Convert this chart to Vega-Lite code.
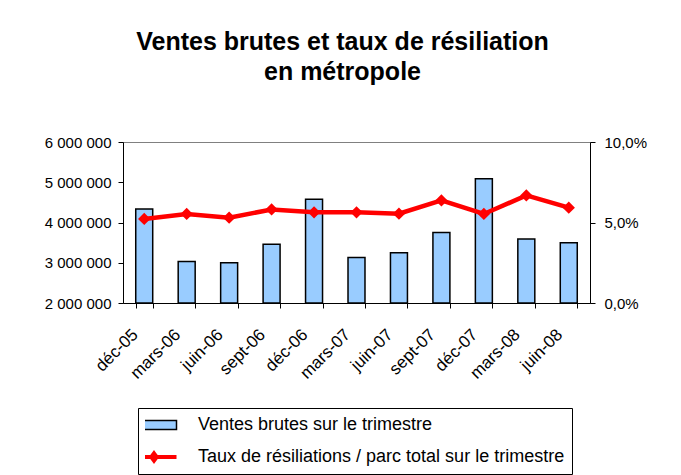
{
  "$schema": "https://vega.github.io/schema/vega-lite/v6.json",
  "width": 467,
  "height": 161,
  "autosize": {"type": "none"},
  "padding": {"left": 123, "top": 142, "right": 91, "bottom": 172},
  "background": "white",
  "title": {
    "text": ["Ventes brutes et taux de résiliation", "en métropole"],
    "font": "Liberation Sans",
    "fontSize": 25,
    "fontWeight": "bold",
    "color": "black",
    "lineHeight": 30,
    "anchor": "middle",
    "frame": "group",
    "dx": -14,
    "offset": 50
  },
  "data": {
    "values": [
      {"trimestre": "déc-05", "serie": "Ventes brutes sur le trimestre", "valeur": 4335000},
      {"trimestre": "mars-06", "serie": "Ventes brutes sur le trimestre", "valeur": 3030000},
      {"trimestre": "juin-06", "serie": "Ventes brutes sur le trimestre", "valeur": 3000000},
      {"trimestre": "sept-06", "serie": "Ventes brutes sur le trimestre", "valeur": 3460000},
      {"trimestre": "déc-06", "serie": "Ventes brutes sur le trimestre", "valeur": 4580000},
      {"trimestre": "mars-07", "serie": "Ventes brutes sur le trimestre", "valeur": 3130000},
      {"trimestre": "juin-07", "serie": "Ventes brutes sur le trimestre", "valeur": 3250000},
      {"trimestre": "sept-07", "serie": "Ventes brutes sur le trimestre", "valeur": 3750000},
      {"trimestre": "déc-07", "serie": "Ventes brutes sur le trimestre", "valeur": 5090000},
      {"trimestre": "mars-08", "serie": "Ventes brutes sur le trimestre", "valeur": 3590000},
      {"trimestre": "juin-08", "serie": "Ventes brutes sur le trimestre", "valeur": 3500000},
      {"trimestre": "déc-05", "serie": "Taux de résiliations / parc total sur le trimestre", "valeur": 0.0522},
      {"trimestre": "mars-06", "serie": "Taux de résiliations / parc total sur le trimestre", "valeur": 0.0553},
      {"trimestre": "juin-06", "serie": "Taux de résiliations / parc total sur le trimestre", "valeur": 0.0530},
      {"trimestre": "sept-06", "serie": "Taux de résiliations / parc total sur le trimestre", "valeur": 0.0581},
      {"trimestre": "déc-06", "serie": "Taux de résiliations / parc total sur le trimestre", "valeur": 0.0563},
      {"trimestre": "mars-07", "serie": "Taux de résiliations / parc total sur le trimestre", "valeur": 0.0563},
      {"trimestre": "juin-07", "serie": "Taux de résiliations / parc total sur le trimestre", "valeur": 0.0555},
      {"trimestre": "sept-07", "serie": "Taux de résiliations / parc total sur le trimestre", "valeur": 0.0637},
      {"trimestre": "déc-07", "serie": "Taux de résiliations / parc total sur le trimestre", "valeur": 0.0553},
      {"trimestre": "mars-08", "serie": "Taux de résiliations / parc total sur le trimestre", "valeur": 0.0668},
      {"trimestre": "juin-08", "serie": "Taux de résiliations / parc total sur le trimestre", "valeur": 0.0592}
    ]
  },
  "encoding": {
    "x": {
      "field": "trimestre",
      "type": "nominal",
      "sort": null,
      "scale": {"paddingInner": 0.6, "paddingOuter": 0.3},
      "axis": {
        "title": null,
        "labelAngle": -45,
        "labelFontSize": 17,
        "tickBand": "extent",
        "tickSize": 5,
        "labelPadding": 18,
        "labelOffset": -15
      }
    }
  },
  "layer": [
    {
      "transform": [{"filter": "datum.serie === 'Ventes brutes sur le trimestre'"}],
      "mark": {"type": "bar", "fill": "#99ccff", "stroke": "black", "strokeWidth": 1.5},
      "encoding": {
        "y": {
          "field": "valeur",
          "type": "quantitative",
          "scale": {"domain": [2000000, 6000000], "zero": false, "nice": false},
          "axis": {
            "orient": "left",
            "title": null,
            "values": [2000000, 3000000, 4000000, 5000000, 6000000],
            "labelExpr": "replace(replace(format(datum.value, ',.0f'), ',', ' '), ',', ' ')",
            "tickSize": 5,
            "labelPadding": 7
          }
        },
        "y2": {"datum": 2000000}
      }
    },
    {
      "transform": [{"filter": "datum.serie === 'Taux de résiliations / parc total sur le trimestre'"}],
      "mark": {"type": "line", "color": "#ff0000", "strokeWidth": 4.5, "point": {"shape": "diamond", "size": 90, "filled": true, "color": "#ff0000"}},
      "encoding": {
        "y": {
          "field": "valeur",
          "type": "quantitative",
          "scale": {"domain": [0, 0.1], "nice": false},
          "axis": {
            "orient": "right",
            "title": null,
            "values": [0, 0.05, 0.1],
            "labelExpr": "replace(format(datum.value, '.1%'), '.', ',')",
            "tickSize": 5,
            "labelPadding": 9
          }
        },
        "stroke": {
          "field": "serie",
          "type": "nominal",
          "scale": {
            "domain": ["Ventes brutes sur le trimestre", "Taux de résiliations / parc total sur le trimestre"],
            "range": ["#000000", "#ff0000"]
          },
          "legend": {
            "orient": "none",
            "legendX": 15,
            "legendY": 266,
            "title": null,
            "strokeColor": "black",
            "fillColor": "white",
            "padding": 7,
            "labelFont": "Liberation Sans",
            "labelFontSize": 18,
            "labelColor": "black",
            "labelLimit": 600,
            "labelOffset": 35,
            "symbolSize": 2025,
            "clipHeight": 20,
            "rowPadding": 12,
            "encode": {
              "symbols": {
                "update": {
                  "shape": {"signal": "datum.value === 'Ventes brutes sur le trimestre' ? 'M-1,-0.2H1V0.2H-1Z' : 'M-1,0H1M0,-0.16L0.12,0L0,0.16L-0.12,0Z'"},
                  "fill": {"signal": "datum.value === 'Ventes brutes sur le trimestre' ? '#99ccff' : '#ff0000'"},
                  "strokeWidth": {"signal": "datum.value === 'Ventes brutes sur le trimestre' ? 1.5 : 4"},
                  "opacity": {"value": 1},
                  "fillOpacity": {"value": 1},
                  "strokeOpacity": {"value": 1}
                }
              }
            }
          }
        }
      }
    }
  ],
  "resolve": {"scale": {"y": "independent"}},
  "config": {
    "view": {"stroke": "#808080", "strokeWidth": 1},
    "axis": {
      "labelFont": "Liberation Sans",
      "labelFontSize": 15,
      "labelColor": "black",
      "domainColor": "black",
      "tickColor": "black",
      "grid": false
    }
  }
}
